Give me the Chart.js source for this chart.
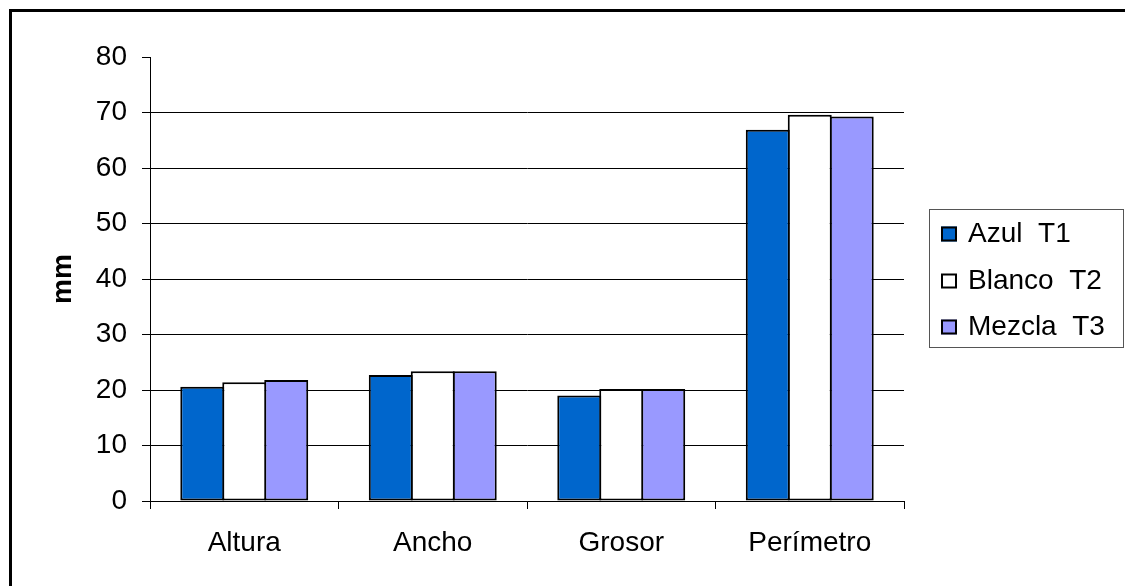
<!DOCTYPE html>
<html>
<head>
<meta charset="utf-8">
<script src="https://cdn.jsdelivr.net/npm/chart.js@4/dist/chart.umd.min.js"></script>
<style>
  html, body { margin: 0; padding: 0; background: #fff; }
  canvas { display: block; }
</style>
</head>
<body>
<canvas id="chart" width="1125" height="586"></canvas>
<script>
// Measurements per piece (mm)
const categories = ['Altura', 'Ancho', 'Grosor', 'Perímetro'];
const seriesNames = ['Azul  T1', 'Blanco  T2', 'Mezcla  T3'];
const azulT1   = [20.6, 22.7, 19.0, 66.9];
const blancoT2 = [21.4, 23.4, 20.2, 69.6];
const mezclaT3 = [21.8, 23.4, 20.2, 69.3];
const yMin = 0, yMax = 80, yStep = 10;
const yTitle = 'mm';

const seriesColors = ['#0066CC', '#FFFFFF', '#9999FF'];
const FONT = "'Liberation Sans', Arial, sans-serif";

// Frame around the whole figure (only top/left edges fall inside the canvas)
const framePlugin = {
  id: 'frame',
  beforeDraw(chart) {
    const ctx = chart.ctx;
    ctx.save();
    ctx.fillStyle = '#fff';
    ctx.fillRect(0, 0, chart.width, chart.height);
    ctx.strokeStyle = '#000';
    ctx.lineWidth = 3;
    ctx.strokeRect(10.5, 10.5, chart.width + 40, chart.height + 40);
    ctx.restore();
  }
};

// Boxed legend on the right, built from the datasets
const boxLegend = {
  id: 'boxLegend',
  afterDraw(chart) {
    const ctx = chart.ctx;
    const x0 = 929.5, y0 = 209.5, w = 194, h = 138;
    ctx.save();
    ctx.strokeStyle = '#555';
    ctx.lineWidth = 1;
    ctx.strokeRect(x0, y0, w, h);
    ctx.font = '28px ' + FONT;
    ctx.textBaseline = 'middle';
    ctx.textAlign = 'left';
    const rows = [234, 281, 327];
    chart.data.datasets.forEach((ds, i) => {
      const cy = rows[i];
      ctx.fillStyle = ds.backgroundColor;
      ctx.fillRect(941, cy - 7.5, 16, 15);
      ctx.strokeStyle = '#000';
      ctx.lineWidth = 2;
      ctx.strokeRect(942, cy - 6.5, 14, 13);
      ctx.fillStyle = '#000';
      ctx.fillText(ds.label, 968, cy);
    });
    ctx.restore();
  }
};

const seriesData = [azulT1, blancoT2, mezclaT3];
const datasets = seriesNames.map((name, i) => ({
  label: name,
  data: seriesData[i],
  backgroundColor: seriesColors[i],
  borderColor: '#000',
  borderWidth: 2,
  borderSkipped: false,
  categoryPercentage: 0.668,
  barPercentage: 1.048
}));

new Chart(document.getElementById('chart'), {
  type: 'bar',
  data: { labels: categories, datasets },
  options: {
    responsive: false,
    animation: false,
    devicePixelRatio: 1,
    layout: { padding: { top: 57, right: 221, bottom: 0, left: 0 } },
    plugins: {
      legend: { display: false },
      tooltip: { enabled: false }
    },
    scales: {
      x: {
        offset: true,
        grid: {
          offset: true,
          drawOnChartArea: false,
          drawTicks: true,
          tickLength: 8,
          tickColor: '#000',
          lineWidth: 1
        },
        border: { display: true, color: '#000', width: 1 },
        ticks: {
          color: '#000',
          padding: 17,
          maxRotation: 0,
          font: { family: FONT, size: 28 }
        },
        afterFit(scale) { scale.height = 85; }
      },
      y: {
        min: yMin,
        max: yMax,
        ticks: {
          stepSize: yStep,
          color: '#000',
          padding: 15,
          font: { family: FONT, size: 28 }
        },
        grid: {
          color: (c) => (c.tick && c.tick.value === yMax) ? 'rgba(0,0,0,0)' : '#000',
          tickColor: '#000',
          tickLength: 8,
          lineWidth: 1
        },
        border: { display: true, color: '#000', width: 1 },
        title: {
          display: true,
          text: yTitle,
          color: '#000',
          padding: { top: 46, bottom: 0 },
          font: { family: FONT, size: 28, weight: 'bold' }
        },
        afterFit(scale) { scale.width = 150; }
      }
    }
  },
  plugins: [framePlugin, boxLegend]
});
</script>
</body>
</html>
